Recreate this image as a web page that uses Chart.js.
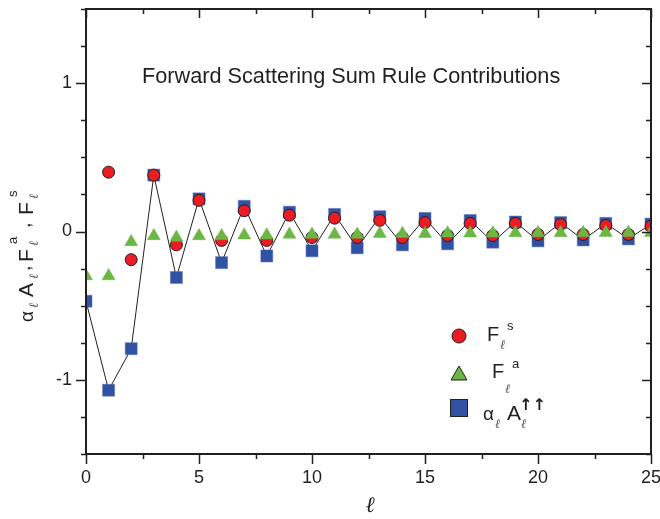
<!DOCTYPE html>
<html>
<head>
<meta charset="utf-8">
<script src="https://cdn.jsdelivr.net/npm/chart.js@4/dist/chart.umd.min.js"></script>
<style>
  html, body { margin: 0; padding: 0; background: #fff; }
</style>
</head>
<body>
<canvas id="chart" width="660" height="519"></canvas>
<script>
// partial waves l = 0..25
const ells = [0, 1, 2, 3, 4, 5, 6, 7, 8, 9, 10, 11, 12, 13, 14, 15, 16, 17, 18, 19, 20, 21, 22, 23, 24, 25];

// F_l^s (no value at l = 0)
const fSym = [null, 0.40, -0.19, 0.38, -0.09, 0.21, -0.06, 0.14, -0.06, 0.11, -0.04, 0.09, -0.04, 0.075,
  -0.04, 0.06, -0.027, 0.054, -0.027, 0.054, -0.02, 0.047, -0.02, 0.04, -0.02, 0.035];

// F_l^a
const fAnti = [-0.30, -0.30, -0.07, -0.03, -0.04, -0.03, -0.03, -0.025, -0.025, -0.02, -0.02, -0.02, -0.02,
  -0.015, -0.015, -0.015, -0.012, -0.012, -0.012, -0.01, -0.01, -0.01, -0.01, -0.008, -0.008, -0.008];

// alpha_l A_l (up-up)
const alphaA = [-0.47, -1.07, -0.79, 0.38, -0.31, 0.22, -0.21, 0.17, -0.165, 0.13, -0.13, 0.115, -0.11, 0.10,
  -0.09, 0.088, -0.083, 0.074, -0.072, 0.064, -0.063, 0.06, -0.057, 0.055, -0.05, 0.05];

const xTicks = [0, 5, 10, 15, 20, 25];
const yTicks = [-1, 0, 1];
const xMinor = [0, 2.5, 5, 7.5, 10, 12.5, 15, 17.5, 20, 22.5, 25];
const yMinor = [-1.5, -1.25, -1, -0.75, -0.5, -0.25, 0, 0.25, 0.5, 0.75, 1, 1.25, 1.5];

const INK = '#231f20';
const RED = '#ec1c24';
const GREEN = '#6cb644';
const BLUE = '#3152a4';
const SANS = '"Liberation Sans", Arial, sans-serif';
const ELL = 'italic 13px "DejaVu Serif", serif';

function pts(arr) {
  return ells.map((l, i) => ({ x: l, y: arr[i] }));
}

// text pieces placed relative to (x, y): [text, font, dx, dy]
function richText(ctx, x, y, pieces) {
  pieces.forEach(([t, font, dx, dy]) => {
    ctx.font = font;
    ctx.fillStyle = t === 'ℓ' ? '#555' : INK;
    ctx.fillText(t, x + dx, y + dy);
  });
}

// axis boxes: no extra room for edge labels
function tightFit(s, size) {
  if (s.isHorizontal()) s.height = size; else s.width = size;
  s.paddingTop = 0;
  s.paddingBottom = 0;
  s.paddingLeft = 0;
  s.paddingRight = 0;
}

const framePlugin = {
  id: 'frame',
  afterDatasetsDraw(chart) {
    const { ctx, chartArea: a, scales } = chart;
    const xs = scales.x, ys = scales.y;
    ctx.save();

    // ticks: outside on left/bottom, inside on top/right
    ctx.strokeStyle = INK;
    ctx.lineWidth = 1.5;
    ctx.beginPath();
    xMinor.forEach(v => {
      const px = Math.round(xs.getPixelForValue(v)) + 0.5;
      const major = xTicks.includes(v);
      ctx.moveTo(px, a.bottom); ctx.lineTo(px, a.bottom + (major ? 10 : 5));
      ctx.moveTo(px, a.top); ctx.lineTo(px, a.top + (major ? 9 : 5));
    });
    yMinor.forEach(v => {
      const py = Math.round(ys.getPixelForValue(v)) + 0.5;
      const major = yTicks.includes(v);
      ctx.moveTo(a.left, py); ctx.lineTo(a.left - (major ? 10 : 5), py);
      ctx.moveTo(a.right, py); ctx.lineTo(a.right - (major ? 9 : 5), py);
    });
    ctx.stroke();

    // box
    ctx.lineWidth = 2;
    ctx.strokeRect(a.left, a.top, a.right - a.left, a.bottom - a.top);

    // title inside the plot
    ctx.fillStyle = INK;
    ctx.font = '21.7px ' + SANS;
    ctx.textBaseline = 'alphabetic';
    ctx.textAlign = 'left';
    ctx.fillText('Forward Scattering Sum Rule Contributions', 142, 83);

    // legend
    ctx.lineWidth = 1;
    ctx.strokeStyle = INK;
    ctx.fillStyle = RED;
    ctx.beginPath(); ctx.arc(459, 336, 7, 0, Math.PI * 2); ctx.fill(); ctx.stroke();
    ctx.fillStyle = GREEN;
    ctx.beginPath(); ctx.moveTo(459, 366); ctx.lineTo(467, 380); ctx.lineTo(451, 380); ctx.closePath();
    ctx.fill(); ctx.stroke();
    ctx.fillStyle = BLUE;
    ctx.fillRect(450.5, 399.5, 17, 17); ctx.strokeRect(450.5, 399.5, 17, 17);

    richText(ctx, 487, 341, [
      ['F', '20px ' + SANS, 0, 0],
      ['ℓ', ELL, 13, 8],
      ['s', '13px ' + SANS, 20, -11]
    ]);
    richText(ctx, 492, 378, [
      ['F', '20px ' + SANS, 0, 0],
      ['ℓ', ELL, 13, 15],
      ['a', '13px ' + SANS, 20, -10]
    ]);
    richText(ctx, 483, 420, [
      ['α', '19px ' + SANS, 0, 0],
      ['ℓ', ELL, 12, 8],
      ['A', '21px ' + SANS, 24, 0],
      ['ℓ', ELL, 38, 8],
      ['↑↑', 'bold 16px "DejaVu Sans", sans-serif', 36, -10]
    ]);

    // x axis title
    ctx.font = 'italic 22px "DejaVu Serif", serif';
    ctx.fillStyle = INK;
    ctx.textAlign = 'center';
    ctx.fillText('ℓ', 370, 512);

    // y axis title, rotated
    ctx.translate(33, 322);
    ctx.rotate(-Math.PI / 2);
    ctx.textAlign = 'left';
    richText(ctx, 0, 0, [
      ['α', '19px ' + SANS, 0, 0],
      ['ℓ', ELL, 14, 5],
      ['A', '21px ' + SANS, 25, 0],
      ['ℓ', ELL, 43, 5],
      [',', '20px ' + SANS, 51, -3],
      ['F', '21px ' + SANS, 60, 0],
      ['ℓ', ELL, 76, 5],
      ['a', '13px ' + SANS, 78, -16],
      [',', '20px ' + SANS, 94, -3],
      ['F', '21px ' + SANS, 107, 0],
      ['ℓ', ELL, 123, 5],
      ['s', '13px ' + SANS, 125, -16]
    ]);
    ctx.restore();
  }
};

new Chart(document.getElementById('chart'), {
  type: 'scatter',
  data: {
    datasets: [
      {
        label: 'F_l^a',
        data: pts(fAnti),
        order: 1,
        pointStyle: 'triangle',
        pointRadius: 7.5,
        pointBackgroundColor: GREEN,
        pointBorderColor: GREEN,
        pointBorderWidth: 0.5,
        showLine: false
      },
      {
        label: 'F_l^s',
        data: pts(fSym),
        order: 2,
        pointStyle: 'circle',
        pointRadius: 6,
        pointBackgroundColor: RED,
        pointBorderColor: INK,
        pointBorderWidth: 1,
        showLine: false
      },
      {
        label: 'alpha_l A_l',
        data: pts(alphaA),
        order: 3,
        pointStyle: 'rect',
        pointRadius: 8.5,
        pointBackgroundColor: BLUE,
        pointBorderColor: '#5a75bd',
        pointBorderWidth: 0.5,
        showLine: true,
        borderColor: INK,
        borderWidth: 1,
        tension: 0
      }
    ]
  },
  options: {
    responsive: false,
    animation: false,
    layout: { padding: { top: 9, right: 9, left: 0, bottom: 0 } },
    plugins: {
      legend: { display: false },
      tooltip: { enabled: false }
    },
    scales: {
      x: {
        type: 'linear',
        min: 0,
        max: 25,
        afterFit: s => tightFit(s, 65),
        afterBuildTicks: s => { s.ticks = xTicks.map(v => ({ value: v })); },
        grid: { display: false, drawTicks: false },
        border: { display: false },
        ticks: {
          padding: 13,
          color: INK,
          font: { family: SANS, size: 18 },
          maxRotation: 0
        }
      },
      y: {
        type: 'linear',
        min: -1.5,
        max: 1.5,
        afterFit: s => tightFit(s, 86),
        afterBuildTicks: s => { s.ticks = yTicks.map(v => ({ value: v })); },
        grid: { display: false, drawTicks: false },
        border: { display: false },
        ticks: {
          padding: 14,
          color: INK,
          font: { family: SANS, size: 18 }
        }
      }
    }
  },
  plugins: [framePlugin]
});
</script>
</body>
</html>
